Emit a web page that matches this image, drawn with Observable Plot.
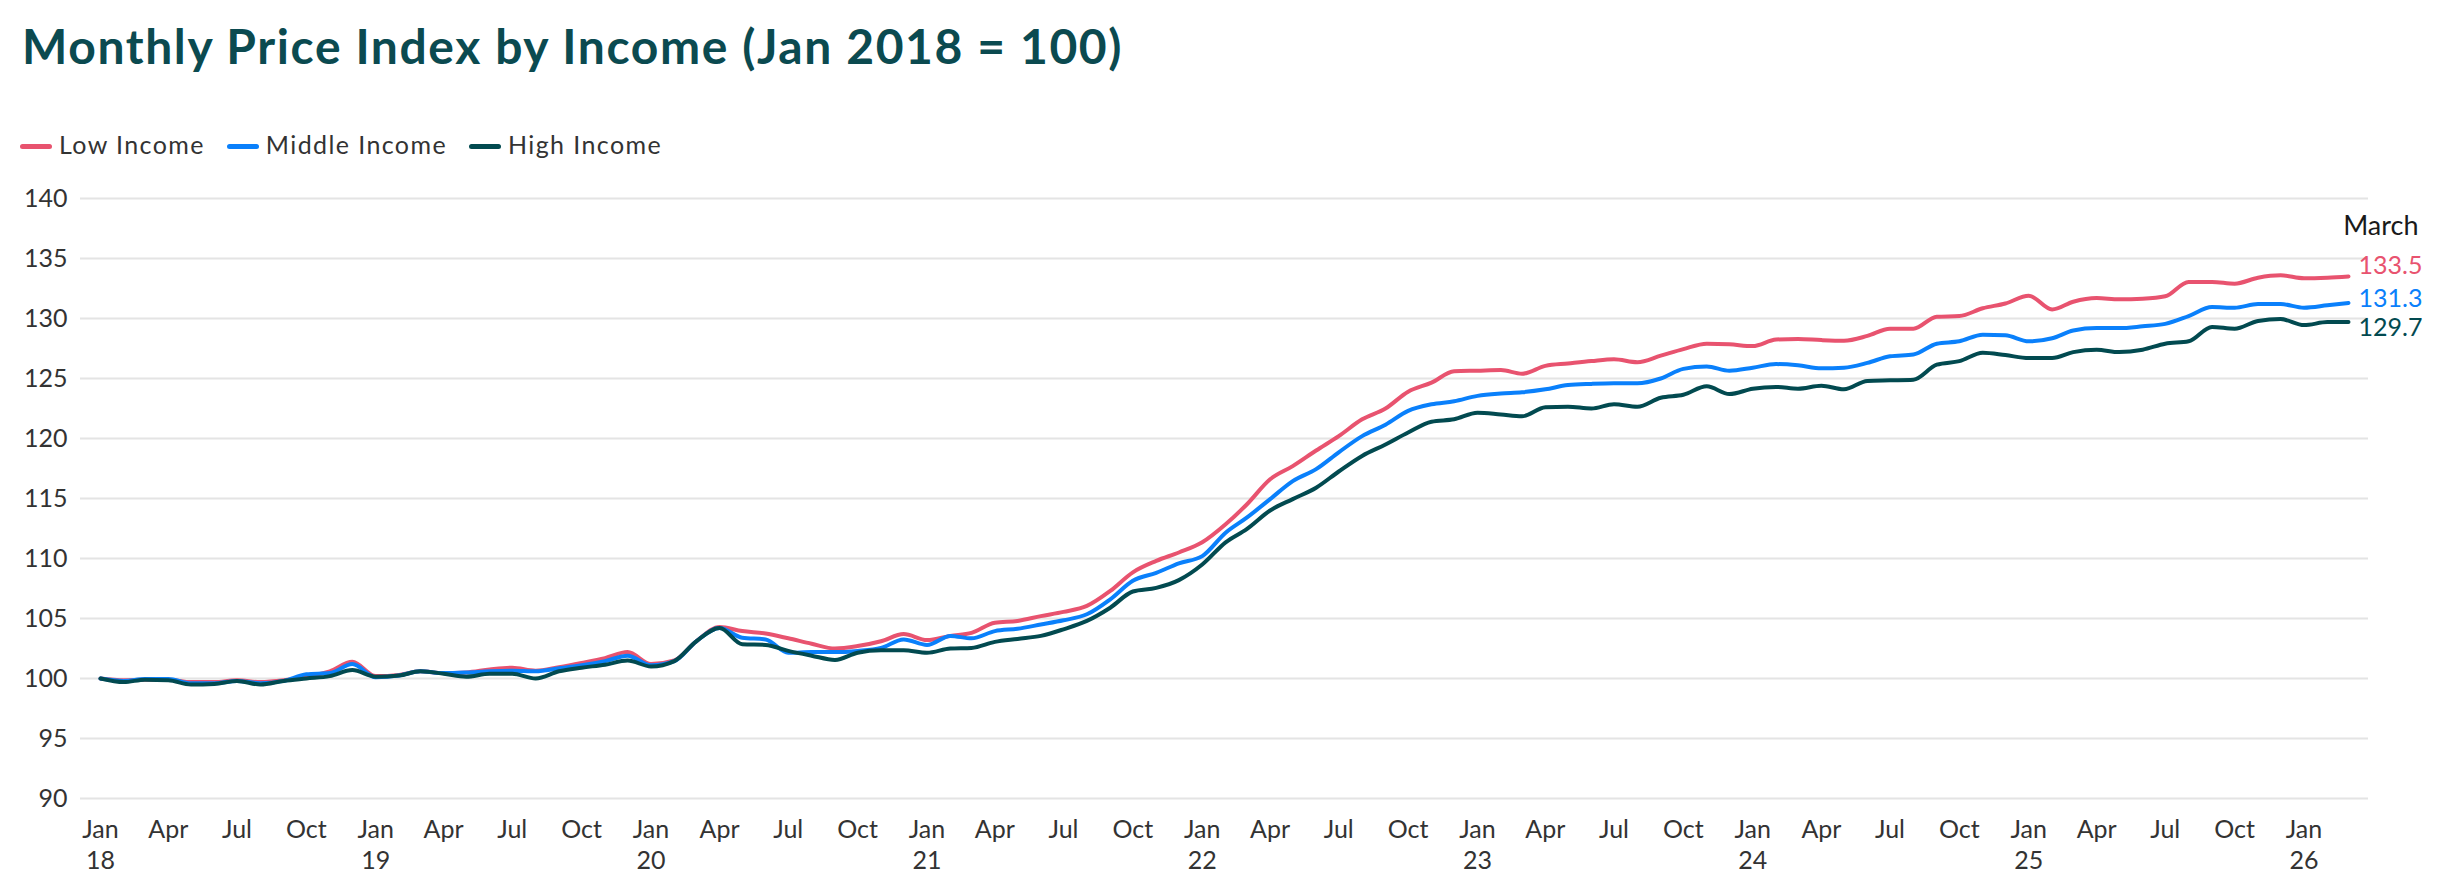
<!DOCTYPE html>
<html>
<head>
<meta charset="utf-8">
<script src="https://cdn.jsdelivr.net/npm/d3@7"></script>
<script src="https://cdn.jsdelivr.net/npm/@observablehq/plot@0.6"></script>
<style>
  html, body { margin: 0; padding: 0; background: #fff; }
  body { width: 2440px; height: 888px; position: relative; overflow: hidden; font-family: Lato, sans-serif; }
  #title { position: absolute; left: 22px; top: 22px; font-size: 48px; line-height: 48px; font-weight: 700; color: #0b4a50; letter-spacing: 1.6px; white-space: nowrap; }
  #legend { position: absolute; left: 20px; top: 132px; display: flex; align-items: center; font-size: 25px; line-height: 25px; color: #333; letter-spacing: 1.4px; }
  .item { display: flex; align-items: center; margin-right: 22px; }
  .sw { display: inline-block; width: 32px; height: 5px; border-radius: 3px; margin-right: 7px; margin-top: 4px; }
  #chart { position: absolute; left: 0; top: 174px; }
</style>
</head>
<body>
<div id="title">Monthly Price Index by Income (Jan 2018 = 100)</div>
<div id="legend"></div>
<div id="chart"></div>
<script>
// Series names and colours
const seriesNames = ["Low Income", "Middle Income", "High Income"];
const seriesColors = ["#e8536f", "#0a80fb", "#024a50"];

// Monthly dates: Jan 2018 .. Mar 2026
const startMonth = new Date(Date.UTC(2018, 0, 1));
const endMonth = new Date(Date.UTC(2026, 2, 1));
const months = d3.utcMonth.range(startMonth, d3.utcMonth.offset(endMonth, 1));

// Index values (Jan 2018 = 100)
const lowIncome = [
  100.0, 99.85, 99.9, 99.9, 99.7, 99.7, 99.85, 99.7, 99.85, 100.15, 100.6, 101.4,
  100.2, 100.3, 100.6, 100.45, 100.5, 100.75, 100.9, 100.65, 100.95, 101.3, 101.7, 102.2,
  101.2, 101.5, 103.1, 104.3, 103.95, 103.75, 103.35, 102.9, 102.5, 102.7, 103.1, 103.7,
  103.2, 103.55, 103.8, 104.65, 104.8, 105.2, 105.55, 106.05, 107.3, 108.85, 109.8, 110.5,
  111.35, 112.85, 114.5, 116.6, 117.7, 119.0, 120.2, 121.6, 122.5, 123.9, 124.65, 125.6,
  125.65, 125.7, 125.4, 126.05, 126.25, 126.45, 126.6, 126.35, 126.9, 127.45, 127.9, 127.85,
  127.7, 128.25, 128.3, 128.2, 128.15, 128.55, 129.15, 129.15, 130.15, 130.2, 130.85, 131.25,
  131.9, 130.75, 131.4, 131.7, 131.6, 131.65, 131.85, 133.05, 133.05, 132.9, 133.4, 133.6,
  133.35, 133.4, 133.5
];
const middleIncome = [
  100.0, 99.8, 99.95, 99.95, 99.6, 99.6, 99.8, 99.6, 99.8, 100.35, 100.45, 101.2,
  100.1, 100.25, 100.6, 100.45, 100.5, 100.6, 100.65, 100.6, 100.85, 101.1, 101.45, 101.9,
  101.1, 101.45, 103.1, 104.2, 103.4, 103.25, 102.15, 102.2, 102.2, 102.3, 102.55, 103.25,
  102.8, 103.55, 103.35, 103.95, 104.15, 104.5, 104.85, 105.35, 106.6, 108.15, 108.8, 109.6,
  110.2, 112.15, 113.4, 114.95, 116.45, 117.45, 118.85, 120.2, 121.15, 122.3, 122.85, 123.1,
  123.55, 123.75, 123.85, 124.1, 124.45, 124.55, 124.6, 124.6, 125.0, 125.8, 126.0, 125.65,
  125.9, 126.2, 126.1, 125.85, 125.9, 126.3, 126.85, 127.0, 127.9, 128.1, 128.65, 128.6,
  128.1, 128.35, 129.0, 129.2, 129.2, 129.35, 129.55, 130.2, 130.95, 130.9, 131.2, 131.2,
  130.9, 131.1, 131.3
];
const highIncome = [
  100.0, 99.7, 99.9, 99.85, 99.5, 99.55, 99.8, 99.5, 99.8, 100.0, 100.2, 100.7,
  100.15, 100.25, 100.6, 100.4, 100.15, 100.4, 100.4, 100.0, 100.6, 100.9, 101.15, 101.5,
  101.0, 101.45, 103.1, 104.2, 102.85, 102.8, 102.3, 101.9, 101.55, 102.15, 102.35, 102.35,
  102.15, 102.5, 102.55, 103.05, 103.3, 103.55, 104.1, 104.8, 105.9, 107.25, 107.55, 108.2,
  109.5, 111.35, 112.45, 114.0, 114.95, 115.9, 117.25, 118.55, 119.5, 120.5, 121.4, 121.6,
  122.15, 122.0, 121.85, 122.6, 122.65, 122.5, 122.85, 122.65, 123.4, 123.65, 124.35, 123.7,
  124.15, 124.3, 124.15, 124.4, 124.1, 124.8, 124.85, 124.9, 126.15, 126.45, 127.15, 126.95,
  126.7, 126.7, 127.2, 127.4, 127.2, 127.4, 127.9, 128.1, 129.3, 129.15, 129.8, 129.95,
  129.45, 129.7, 129.7
];
const seriesValues = [lowIncome, middleIncome, highIncome];

// Axis ticks
const yTicks = [90, 95, 100, 105, 110, 115, 120, 125, 130, 135, 140];
const xTicks = d3.utcMonth.every(3).range(startMonth, d3.utcMonth.offset(endMonth, 1));
const monthAbbr = ["Jan","Feb","Mar","Apr","May","Jun","Jul","Aug","Sep","Oct","Nov","Dec"];
const endLabelTitle = "March";

// Build tidy table
const rows = [];
seriesNames.forEach((name, i) => {
  seriesValues[i].forEach((v, j) => rows.push({series: name, date: months[j], value: v}));
});
const lastRows = seriesNames.map((name, i) => ({series: name, date: months[months.length - 1], value: seriesValues[i][seriesValues[i].length - 1]}));

// Legend
const legend = document.getElementById("legend");
seriesNames.forEach((name, i) => {
  const it = document.createElement("div");
  it.className = "item";
  const sw = document.createElement("span");
  sw.className = "sw";
  sw.style.background = seriesColors[i];
  const tx = document.createElement("span");
  tx.textContent = name;
  it.appendChild(sw); it.appendChild(tx);
  legend.appendChild(it);
});

const labelDy = [-11, -4, 6];

const chart = Plot.plot({
  width: 2440,
  height: 714,
  marginTop: 24,
  marginBottom: 90,
  marginLeft: 80,
  marginRight: 72,
  style: {fontFamily: "Lato, sans-serif", color: "#333", background: "transparent", overflow: "visible"},
  x: {type: "utc", domain: [startMonth, endMonth], inset: 20},
  y: {domain: [90, 140]},
  color: {domain: seriesNames, range: seriesColors},
  marks: [
    Plot.gridY(yTicks, {stroke: "#e4e4e4", strokeOpacity: 1, strokeWidth: 2}),
    Plot.axisY(yTicks, {tickSize: 0, tickPadding: 13, fontSize: 25, fill: "#333", label: null}),
    Plot.axisX(xTicks, {
      tickSize: 0, tickPadding: 17, fontSize: 25, lineHeight: 1.25, fill: "#333", label: null,
      tickFormat: d => d.getUTCMonth() === 0 ? `Jan\n${String(d.getUTCFullYear()).slice(2)}` : monthAbbr[d.getUTCMonth()]
    }),
    ...seriesNames.map((name, i) => Plot.lineY(rows.filter(r => r.series === name), {
      x: "date", y: "value", stroke: seriesColors[i], strokeWidth: 4, curve: "monotone-x"
    })),
    ...seriesNames.map((name, i) => Plot.text([lastRows[i]], {
      x: "date", y: "value", text: d => d.value.toFixed(1), fill: seriesColors[i],
      textAnchor: "start", dx: 10, dy: labelDy[i], fontSize: 25
    })),
    Plot.text([endLabelTitle], {
      x: () => endMonth, frameAnchor: "top", text: d => d, dx: 70, dy: 17,
      textAnchor: "end", fontSize: 27, fill: "#1a1a1a"
    })
  ]
});
document.getElementById("chart").appendChild(chart);
</script>
</body>
</html>
